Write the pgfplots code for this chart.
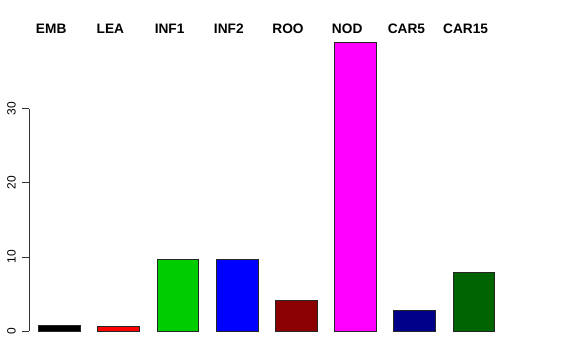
\documentclass[border=0pt]{standalone}
\usepackage{pgfplots}
\pgfplotsset{compat=1.18}
\usepackage{fontspec}
\setmainfont{Liberation Sans}
\definecolor{cEMB}{RGB}{0,0,0}
\definecolor{cLEA}{RGB}{255,0,0}
\definecolor{cINF1}{RGB}{0,205,0}
\definecolor{cINF2}{RGB}{0,0,255}
\definecolor{cROO}{RGB}{139,0,0}
\definecolor{cNOD}{RGB}{255,0,255}
\definecolor{cCAR5}{RGB}{0,0,139}
\definecolor{cCAR15}{RGB}{0,100,0}
\begin{document}
\begin{tikzpicture}
\begin{axis}[
  name=main,
  scale only axis,
  width=576bp, height=360bp,
  xmin=-1.005, xmax=8.725,
  ymin=-3.91, ymax=44.67,
  hide axis,
  clip=false,
  ybar, bar width=41.7bp, bar shift=0pt,
  every axis plot/.append style={draw=black!85, line width=0.75bp},
]
\addplot[fill=cEMB] coordinates {(0,0.77)};
\addplot[fill=cLEA] coordinates {(1,0.63)};
\addplot[fill=cINF1] coordinates {(2,9.67)};
\addplot[fill=cINF2] coordinates {(3,9.67)};
\addplot[fill=cROO] coordinates {(4,4.14)};
\addplot[fill=cNOD] coordinates {(5,38.9)};
\addplot[fill=cCAR5] coordinates {(6,2.83)};
\addplot[fill=cCAR15] coordinates {(7,7.87)};
% y axis
\draw[line width=0.75bp, black!80] (axis cs:-0.515,0) -- (axis cs:-0.515,30);
\pgfplotsinvokeforeach{0,10,20,30}{
  \draw[line width=0.75bp, black!80] (axis cs:-0.515,#1) -- ([xshift=-7.5bp]axis cs:-0.515,#1);
  \node[rotate=90, anchor=center, inner sep=0pt, font=\fontsize{12bp}{14bp}\selectfont] at ([xshift=-17.5bp]axis cs:-0.515,#1) {#1};
}
% category labels
\tikzset{catlab/.style={anchor=base, inner sep=0pt, font=\fontsize{13.7bp}{16bp}\selectfont\bfseries}}
\node[catlab] at (axis cs:-0.14,40.09) {EMB};
\node[catlab] at (axis cs:0.86,40.09) {LEA};
\node[catlab] at (axis cs:1.86,40.09) {INF1};
\node[catlab] at (axis cs:2.86,40.09) {INF2};
\node[catlab] at (axis cs:3.86,40.09) {ROO};
\node[catlab] at (axis cs:4.86,40.09) {NOD};
\node[catlab] at (axis cs:5.86,40.09) {CAR5};
\node[catlab] at (axis cs:6.86,40.09) {CAR15};
\end{axis}
\path (main.south west) rectangle (main.north east);
\end{tikzpicture}
\end{document}
